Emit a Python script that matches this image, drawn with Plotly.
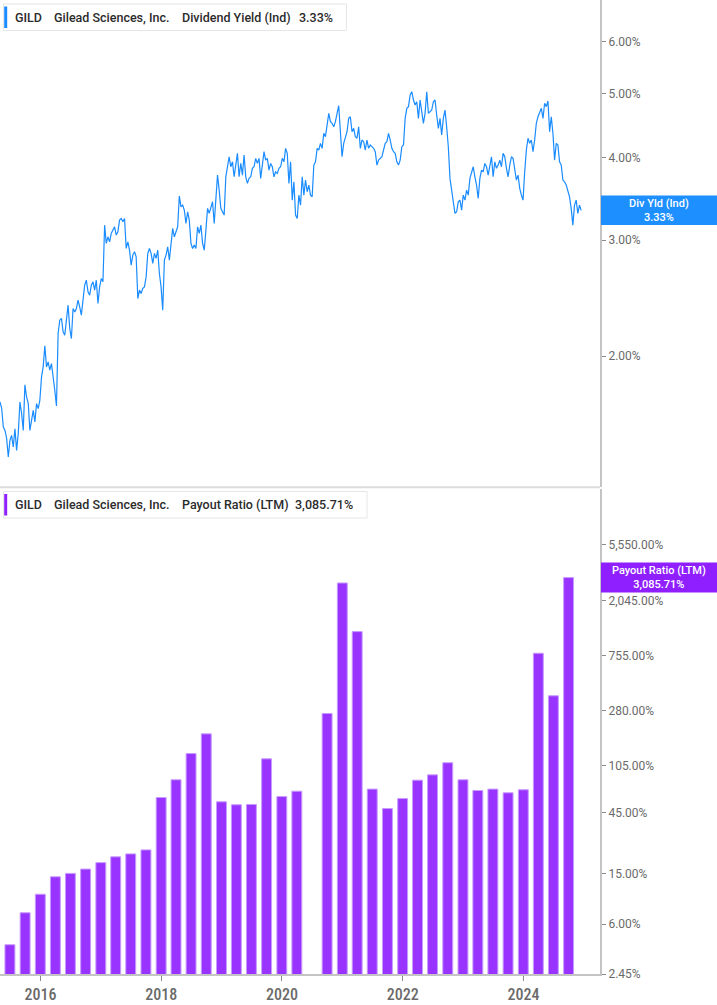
import pandas as pd
import plotly.graph_objects as go

# ---------------- DATA ----------------
# Dividend yield (indicated), %, every 10 days, 2015-05-01 .. 2024-12-15
yield_start = "2015-05-01"
yield_end = "2024-12-15"
div_yield = [
    1.705, 1.668, 1.562, 1.544, 1.501, 1.407, 1.491, 1.517, 1.457, 1.553,
    1.440, 1.528, 1.705, 1.639, 1.544, 1.811, 1.735, 1.697, 1.544, 1.599,
    1.656, 1.590, 1.695, 1.666, 1.715, 1.861, 1.927, 2.074, 1.927, 1.961,
    1.905, 1.950, 1.839, 1.776, 1.681, 2.166, 2.269, 2.283, 2.178, 2.153,
    2.269, 2.391, 2.204, 2.128, 2.363, 2.335, 2.363, 2.433, 2.377, 2.309,
    2.433, 2.564, 2.609, 2.505, 2.476, 2.564, 2.594, 2.520, 2.609, 2.405,
    2.549, 2.624, 2.594, 3.162, 2.967, 3.036, 2.983, 3.072, 3.108, 3.144,
    3.054, 3.090, 3.218, 3.237, 3.199, 3.237, 2.915, 2.983, 2.898, 2.750,
    2.848, 2.881, 2.831, 2.447, 2.520, 2.491, 2.535, 2.549, 2.639, 2.865,
    2.915, 2.865, 2.766, 2.865, 2.815, 2.898, 2.671, 2.549, 2.349, 2.798,
    2.848, 2.932, 2.798, 2.967, 3.126, 3.036, 3.090, 3.144, 3.500, 3.371,
    3.391, 3.333, 3.181, 3.313, 3.218, 2.967, 2.915, 2.949, 2.915, 3.144,
    3.072, 3.162, 2.967, 2.898, 3.108, 3.353, 3.295, 3.371, 3.431, 3.181,
    3.411, 3.766, 3.574, 3.353, 3.313, 3.275, 3.744, 3.856, 4.015, 3.877,
    3.945, 3.744, 3.923, 4.063, 3.744, 3.923, 3.766, 4.039, 3.744, 3.659,
    3.723, 3.744, 3.856, 3.877, 3.993, 3.923, 3.993, 3.723, 3.900, 4.087,
    3.969, 3.993, 3.833, 3.923, 3.877, 3.744, 3.810, 3.788, 3.856, 3.877,
    3.993, 3.945, 4.135, 4.063, 3.659, 3.945, 3.451, 3.679, 3.275, 3.237,
    3.512, 3.391, 3.744, 3.512, 3.701, 3.553, 3.637, 3.512, 3.491, 3.900,
    3.945, 4.135, 4.111, 4.208, 4.135, 4.358, 4.307, 4.513, 4.673, 4.538,
    4.513, 4.459, 4.538, 4.673, 4.799, 4.382, 4.015, 4.208, 4.283, 4.382,
    4.592, 4.618, 4.382, 4.434, 4.307, 4.283, 4.459, 4.135, 4.257, 4.232,
    4.111, 4.257, 4.135, 4.183, 4.159, 4.135, 4.087, 3.900, 3.969, 3.993,
    4.015, 4.111, 4.208, 4.232, 4.358, 4.257, 4.135, 4.087, 4.063, 3.945,
    3.900, 3.969, 4.159, 4.183, 4.592, 4.755, 4.783, 4.982, 5.040, 4.895,
    4.811, 4.866, 4.592, 4.895, 4.699, 4.513, 4.673, 5.040, 4.673, 4.699,
    4.727, 4.866, 4.895, 4.645, 4.434, 4.592, 4.332, 4.592, 4.727, 4.459,
    4.159, 3.723, 3.553, 3.451, 3.295, 3.313, 3.431, 3.451, 3.333, 3.512,
    3.451, 3.574, 3.512, 3.723, 3.788, 3.877, 3.744, 3.637, 3.472, 3.723,
    3.833, 3.810, 3.923, 3.877, 3.766, 3.877, 4.015, 3.744, 3.945, 3.856,
    3.900, 3.969, 3.877, 4.063, 4.015, 3.856, 3.744, 3.900, 4.015, 3.993,
    3.810, 3.701, 3.766, 3.595, 3.512, 3.451, 3.810, 4.111, 4.283, 4.208,
    4.257, 4.087, 4.257, 4.513, 4.618, 4.673, 4.755, 4.592, 4.840, 4.783,
    4.878, 4.382, 4.618, 4.358, 3.969, 4.208, 4.183, 3.945, 3.900, 3.701,
    3.679, 3.637, 3.574, 3.491, 3.353, 3.162, 3.391, 3.451, 3.295, 3.391,
    3.33,
]

# Payout ratio (LTM), %, quarter ends
payout_dates = [
    "2015-06-30", "2015-09-30", "2015-12-31",
    "2016-03-31", "2016-06-30", "2016-09-30", "2016-12-31",
    "2017-03-31", "2017-06-30", "2017-09-30", "2017-12-31",
    "2018-03-31", "2018-06-30", "2018-09-30", "2018-12-31",
    "2019-03-31", "2019-06-30", "2019-09-30", "2019-12-31",
    "2020-03-31", "2020-06-30", "2020-09-30", "2020-12-31",
    "2021-03-31", "2021-06-30", "2021-09-30", "2021-12-31",
    "2022-03-31", "2022-06-30", "2022-09-30", "2022-12-31",
    "2023-03-31", "2023-06-30", "2023-09-30", "2023-12-31",
    "2024-03-31", "2024-06-30", "2024-09-30",
]
payout_ratio = [
    4.15, 7.38, 10.3,
    14.1, 15.0, 16.2, 18.2,
    20.2, 21.3, 22.9, 58.8,
    80.9, 129.8, 185.0, 54.4,
    51.6, 51.9, 118.0, 59.8,
    65.9, None, 267.0, 2800.0,
    1166.0, 68.4, 48.2, 57.7,
    80.4, 88.4, 110.0, 80.9,
    66.7, 68.4, 64.0, 67.6,
    790.0, 367.0, 3085.71,
]

yield_ticks = [2, 3, 4, 5, 6]
yield_tick_text = ["2.00%", "3.00%", "4.00%", "5.00%", "6.00%"]
payout_ticks = [2.45, 6, 15, 45, 105, 280, 755, 2045, 5550]
payout_tick_text = ["2.45%", "6.00%", "15.00%", "45.00%", "105.00%", "280.00%",
                    "755.00%", "2,045.00%", "5,550.00%"]
year_ticks = ["2016-01-01", "2018-01-01", "2020-01-01", "2022-01-01", "2024-01-01"]
year_tick_text = ["2016", "2018", "2020", "2022", "2024"]

ticker = "GILD"
company = "Gilead Sciences, Inc."
yield_name = "Dividend Yield (Ind)"
yield_last = "3.33%"
payout_name = "Payout Ratio (LTM)"
payout_last = "3,085.71%"

# ---------------- STYLE ----------------
BLUE = "#1a8cff"
BLUE_BOX = "#1e8fff"
PURPLE = "#9933ff"
PURPLE_BOX = "#8f1fff"
W, H = 717, 1005
ML, MR, MT, MB = 0, 117, 0, 31
PW, PH = W - ML - MR, H - MT - MB

def px(x):
    return (x - ML) / PW

def py(y):
    return 1 - (y - MT) / PH

yield_dates = pd.date_range(yield_start, yield_end, periods=len(div_yield))

fig = go.Figure()
fig.add_trace(go.Scatter(x=yield_dates, y=div_yield, mode="lines",
                         line=dict(color=BLUE, width=1.2),
                         xaxis="x", yaxis="y", hoverinfo="skip"))
fig.add_trace(go.Bar(x=pd.to_datetime(payout_dates), y=payout_ratio,
                     marker=dict(color=PURPLE, line=dict(color="#c79bff", width=1)),
                     width=60 * 24 * 3600 * 1000,
                     xaxis="x2", yaxis="y2", hoverinfo="skip"))

axis_line = "#c4c4c4"
tick_font = dict(family="Roboto, Arial, sans-serif", size=12, color="#6a6a6a")
xr = ["2015-05-01", "2025-04-08"]

fig.update_layout(
    width=W, height=H,
    margin=dict(l=ML, r=MR, t=MT, b=MB),
    paper_bgcolor="white", plot_bgcolor="white",
    showlegend=False,
    bargap=0,
    xaxis=dict(domain=[0, 1], anchor="y", type="date", range=xr,
               showticklabels=False, showgrid=False, zeroline=False,
               showline=False, ticks="", matches="x2"),
    yaxis=dict(domain=[py(487.3), 1], anchor="x", side="right", type="log",
               range=[0.1023, 0.8415], tickvals=yield_ticks, ticktext=yield_tick_text,
               showgrid=False, zeroline=False, showline=True,
               linecolor=axis_line, linewidth=2,
               ticks="outside", ticklen=4, tickcolor="#8a8a8a", tickwidth=1,
               tickfont=tick_font),
    xaxis2=dict(domain=[0, 1], anchor="y2", type="date", range=xr,
                tickvals=year_ticks, ticktext=year_tick_text,
                showgrid=False, zeroline=False, showline=True,
                linecolor=axis_line, linewidth=2,
                ticks="outside", ticklen=5, tickcolor="#8a8a8a", tickwidth=1,
                tickfont=dict(family="Liberation Sans Narrow, Roboto Condensed, Roboto, sans-serif",
                              size=16, color="#6a6a6a", weight=500)),
    yaxis2=dict(domain=[0, py(489)], anchor="x2", side="right", type="log",
                range=[0.3892, 4.182], tickvals=payout_ticks, ticktext=payout_tick_text,
                showgrid=False, zeroline=False, showline=True,
                linecolor=axis_line, linewidth=2,
                ticks="outside", ticklen=4, tickcolor="#8a8a8a", tickwidth=1,
                tickfont=tick_font),
)

shapes = []
annotations = []

# divider between panes
shapes.append(dict(type="line", xref="paper", yref="paper",
                   x0=0, x1=px(600), y0=py(487.3), y1=py(487.3),
                   line=dict(color="#dcdcdc", width=2)))

legend_font = dict(family="Roboto, Arial, sans-serif", size=12.5, color="#2b2b2b", weight=500)

def legend_box(x0, x1, y0, y1, color, parts):
    shapes.append(dict(type="rect", xref="paper", yref="paper",
                       x0=px(x0), x1=px(x1), y0=py(y1), y1=py(y0),
                       line=dict(color="#e6e6e6", width=1), fillcolor="white", layer="above"))
    shapes.append(dict(type="rect", xref="paper", yref="paper",
                       x0=px(x0 + 0.7), x1=px(x0 + 3.7), y0=py(y1 - 2.5), y1=py(y0 + 2.5),
                       line=dict(width=0), fillcolor=color, layer="above"))
    yc = (y0 + y1) / 2
    for xt, txt in parts:
        annotations.append(dict(xref="paper", yref="paper", x=px(xt), y=py(yc),
                                text=txt, showarrow=False, xanchor="left", yanchor="middle",
                                font=legend_font))

legend_box(3.5, 346.5, 4, 30.5, BLUE,
           [(12.5, ticker), (51.5, company), (179.5, yield_name), (296.5, yield_last)])
legend_box(3.5, 367, 491.5, 518, "#8f1fff",
           [(12.5, ticker), (51.5, company), (179.5, payout_name), (293, payout_last)])

def value_box(y0, y1, color, line1, line2):
    shapes.append(dict(type="rect", xref="paper", yref="paper",
                       x0=px(601), x1=px(717), y0=py(y1), y1=py(y0),
                       line=dict(width=0), fillcolor=color, layer="above"))
    annotations.append(dict(xref="paper", yref="paper", x=px(659), y=py((y0 + y1) / 2),
                            text=line1 + "<br>" + line2, showarrow=False,
                            xanchor="center", yanchor="middle",
                            font=dict(family="Roboto, Arial, sans-serif", size=11,
                                      color="white", weight=500)))

value_box(195.5, 225, BLUE_BOX, "Div Yld (Ind)", yield_last)
value_box(562.5, 592.5, PURPLE_BOX, payout_name, payout_last)

fig.update_layout(shapes=shapes, annotations=annotations)
fig.write_html("out.html",
               config={"displayModeBar": False, "staticPlot": True},
               post_script="document.body.style.margin='0';document.body.style.overflow='hidden';")
